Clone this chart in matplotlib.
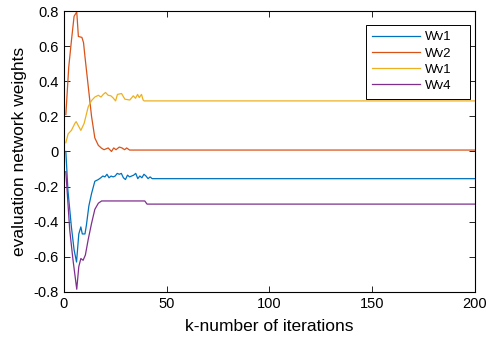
import matplotlib
matplotlib.use("Agg")
import matplotlib.pyplot as plt

plt.rcParams['font.family'] = ['Liberation Sans', 'DejaVu Sans']

# breakpoints (iteration, weight)
k_wv1 = [1, 2, 3.7, 5, 6.2, 7.3, 8.3, 9, 10.3, 11, 12.2, 13.5, 15.1, 16.8, 18, 19, 20, 21, 22, 23, 24, 25,
         26, 27, 28, 29, 30, 31, 32, 33, 34, 35, 36, 37, 38, 39, 40, 41, 42, 43, 200]
wv1 = [0.0, -0.22, -0.43, -0.56, -0.63, -0.47, -0.43, -0.47, -0.47, -0.42, -0.31, -0.24, -0.17, -0.16,
       -0.15, -0.14, -0.145, -0.13, -0.15, -0.14, -0.145, -0.14, -0.125, -0.13, -0.125, -0.15, -0.16,
       -0.135, -0.145, -0.14, -0.135, -0.125, -0.155, -0.14, -0.15, -0.13, -0.14, -0.155, -0.145,
       -0.155, -0.155]

k_wv2 = [1, 2.4, 3.7, 5, 6.3, 7.1, 8.8, 9.6, 10.3, 11.9, 13.5, 15.1, 16.8, 18.4, 19.6, 21.6, 23.2, 24.3,
         25.4, 27, 28.3, 29.6, 30.6, 32, 200]
wv2 = [0.21, 0.48, 0.63, 0.77, 0.795, 0.655, 0.65, 0.62, 0.54, 0.37, 0.20, 0.077, 0.035, 0.018, 0.01,
       0.02, 0.0, 0.02, 0.01, 0.025, 0.02, 0.01, 0.02, 0.008, 0.008]

k_wv3 = [1, 2.1, 3.7, 5.4, 6, 8.3, 9.9, 11.9, 13.5, 15.1, 16.8, 18.1, 19.2, 20.3, 21.6, 22.9, 24, 25.2,
         26.1, 28.1, 29.7, 32.1, 33.8, 34.9, 35.9, 36.7, 37.8, 38.6, 39.1, 200]
wv3 = [0.05, 0.10, 0.12, 0.16, 0.17, 0.12, 0.16, 0.255, 0.29, 0.31, 0.32, 0.31, 0.325, 0.336, 0.32,
       0.317, 0.305, 0.288, 0.325, 0.33, 0.298, 0.293, 0.317, 0.303, 0.325, 0.307, 0.325, 0.293,
       0.288, 0.288]

k_wv4 = [1, 2.9, 4.5, 5.7, 6.3, 7.3, 8.3, 9.4, 10.5, 11.9, 13.5, 15.1, 16.8, 18.4, 39.4, 40.5, 200]
wv4 = [-0.115, -0.45, -0.62, -0.73, -0.785, -0.656, -0.61, -0.62, -0.59, -0.50, -0.41, -0.33, -0.295,
       -0.282, -0.282, -0.30, -0.30]

labels = ['Wv1', 'Wv2', 'Wv1', 'Wv4']
colors = ['#0072BD', '#D95319', '#EDB120', '#7E2F8E']

fig = plt.figure(figsize=(4.87, 3.45), dpi=100)
ax = fig.add_axes([0.131, 0.154, 0.844, 0.814])

series = [(k_wv1, wv1), (k_wv2, wv2), (k_wv3, wv3), (k_wv4, wv4)]
for (k, w), lab, c in zip(series, labels, colors):
    ax.plot(k, w, color=c, lw=0.9, label=lab)

ax.set_xlim(0, 200)
ax.set_ylim(-0.8, 0.8)
ax.set_xticks([0, 50, 100, 150, 200])
ax.set_yticks([-0.8, -0.6, -0.4, -0.2, 0, 0.2, 0.4, 0.6, 0.8])
ax.set_yticklabels(['-0.8', '-0.6', '-0.4', '-0.2', '0', '0.2', '0.4', '0.6', '0.8'])
ax.tick_params(direction='in', top=True, right=True, labelsize=10.5, length=4, width=0.6)
for s in ax.spines.values():
    s.set_linewidth(0.8)

ax.set_xlabel('k-number of iterations', fontsize=12.5, labelpad=6)
ax.set_ylabel('evaluation network weights', fontsize=12.5, labelpad=5)

leg = ax.legend(loc='upper left', bbox_to_anchor=(0.735, 0.5, 0.2536, 0.452), mode='expand',
                fontsize=9.5, handlelength=3.6, fancybox=False, edgecolor='black', framealpha=1,
                borderpad=0.5, labelspacing=0.3, handletextpad=0.4, borderaxespad=0)
leg.get_frame().set_linewidth(0.7)

fig.savefig('out.png', dpi=100)
